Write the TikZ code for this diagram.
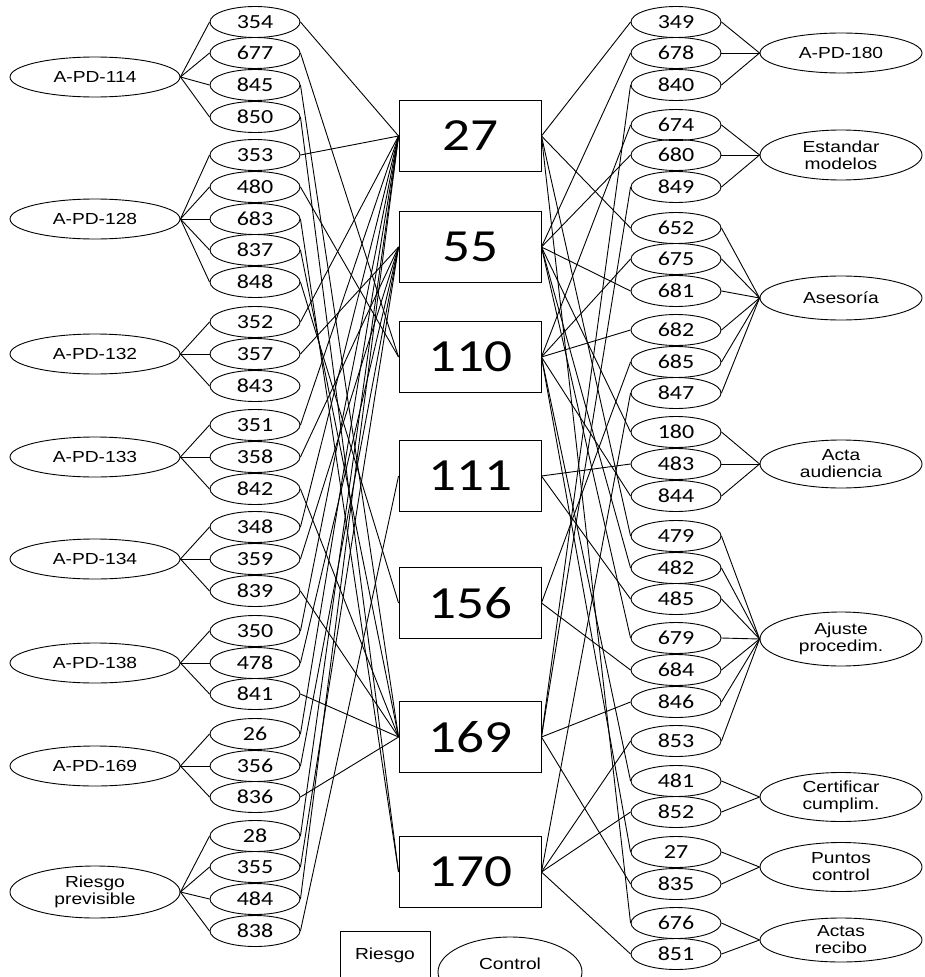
\documentclass[tikz,border=0pt]{standalone}
\usepackage{fontspec}
\setmainfont{Liberation Sans}[FakeStretch=1.2]
\newfontfamily\numfont{Carlito}[FakeStretch=1.2]
\usetikzlibrary{shapes.geometric}

\tikzset{
  act/.style={ellipse, draw, minimum width=90pt, minimum height=31pt, inner sep=0pt,
    font=\numfont\fontsize{20}{20}\selectfont},
  proc/.style={ellipse, draw, minimum width=170pt, minimum height=40pt, inner sep=0pt,
    align=center, font=\fontsize{16}{17}\selectfont},
  ctype/.style={ellipse, draw, minimum width=162pt, minimum height=44pt, inner sep=0pt,
    align=center, font=\fontsize{16}{17}\selectfont},
  risk/.style={draw, minimum width=142pt, minimum height=71pt, inner sep=0pt,
    font=\numfont\fontsize{46}{46}\selectfont},
}

\begin{document}
\begin{tikzpicture}[x=1pt, y=-1pt, line width=0.9pt]
    \clip (0,0) rectangle (924,977);

    % riesgos (centro)
    \foreach \n/\y in {27/136, 55/247, 110/357, 111/476, 156/603, 169/737, 170/872}
        \node[risk] (r\n) at (470,\y) {\n};

    % actividades (izquierda)
    \foreach \n/\y in {354/22, 677/53, 845/85, 850/117, 353/155, 480/187, 683/219,
        837/250, 848/282, 352/322, 357/354, 843/386, 351/425, 358/457, 842/489,
        348/527, 359/559, 839/591, 350/631, 478/663, 841/694, 26/734, 356/766,
        836/797, 28/836, 355/867, 484/899, 838/931}
        \node[act] (a\n) at (255,\y) {\n};

    % controles (derecha)
    \foreach \n/\y in {349/22, 678/53, 840/85, 674/125, 680/155, 849/187, 652/228,
        675/259, 681/291, 682/330, 685/362, 847/393, 180/432, 483/464, 844/496,
        479/536, 482/568, 485/599, 679/638, 684/670, 846/702, 853/741, 481/781,
        852/812, 27/852, 835/884, 676/923, 851/954}
        \node[act] (c\n) at (676,\y) {\n};

    % procedimientos
    \node[proc] (p114) at (95,77) {A-PD-114};
    \node[proc] (p128) at (95,219) {A-PD-128};
    \node[proc] (p132) at (95,354) {A-PD-132};
    \node[proc] (p133) at (95,457) {A-PD-133};
    \node[proc] (p134) at (95,559) {A-PD-134};
    \node[proc] (p138) at (95,663) {A-PD-138};
    \node[proc] (p169) at (95,766) {A-PD-169};
    \node[proc, minimum height=52pt] (prev) at (95,892) {Riesgo\\previsible};

    % tipos de control
    \node[ctype, minimum height=40pt] (t180) at (841,53) {A-PD-180};
    \node[ctype, minimum height=50pt] (test) at (841,155) {Estandar\\modelos};
    \node[ctype] (tase) at (841,298) {Asesoría};
    \node[ctype, minimum height=48pt] (tact) at (841,464) {Acta\\audiencia};
    \node[ctype, minimum height=54pt] (taju) at (841,639) {Ajuste\\procedim.};
    \node[ctype, minimum height=49pt] (tcer) at (841,797) {Certificar\\cumplim.};
    \node[ctype, minimum height=49pt] (tpun) at (841,867) {Puntos\\control};
    \node[ctype] (tres) at (841,940) {Actas\\recibo};

    % procedimiento -> actividad
    \foreach \a in {354,677,845,850} \draw (p114.east) -- (a\a.west);
    \foreach \a in {353,480,683,837,848} \draw (p128.east) -- (a\a.west);
    \foreach \a in {352,357,843} \draw (p132.east) -- (a\a.west);
    \foreach \a in {351,358,842} \draw (p133.east) -- (a\a.west);
    \foreach \a in {348,359,839} \draw (p134.east) -- (a\a.west);
    \foreach \a in {350,478,841} \draw (p138.east) -- (a\a.west);
    \foreach \a in {26,356,836} \draw (p169.east) -- (a\a.west);
    \foreach \a in {28,355,484,838} \draw (prev.east) -- (a\a.west);

    % actividad -> riesgo
    \foreach \a/\r in {354/27, 677/110, 845/169, 850/170, 353/27, 480/110, 683/170,
        837/169, 848/156, 352/27, 357/55, 351/27, 358/55, 842/169, 348/27, 359/55,
        839/169, 350/27, 478/55, 841/169, 26/27, 356/55, 836/169, 28/27, 355/55,
        484/27, 838/111}
        \draw (a\a.east) -- (r\r.west);

    % riesgo -> control
    \foreach \r/\c in {27/349, 27/652, 27/479, 27/676, 55/678, 55/680, 55/681, 55/180,
        55/679, 55/482, 110/674, 110/675, 110/682, 110/844, 110/481, 110/27, 111/483,
        111/485, 156/685, 156/684, 169/840, 169/849, 169/846, 169/835, 170/847,
        170/853, 170/852, 170/851}
        \draw (r\r.east) -- (c\c.west);

    % control -> tipo
    \foreach \c in {349,678,840} \draw (c\c.east) -- (t180.west);
    \foreach \c in {674,680,849} \draw (c\c.east) -- (test.west);
    \foreach \c in {652,675,681,682,685,847} \draw (c\c.east) -- (tase.west);
    \foreach \c in {180,483,844} \draw (c\c.east) -- (tact.west);
    \foreach \c in {479,482,485,679,684,846,853} \draw (c\c.east) -- (taju.west);
    \foreach \c in {481,852} \draw (c\c.east) -- (tcer.west);
    \foreach \c in {27,835} \draw (c\c.east) -- (tpun.west);
    \foreach \c in {676,851} \draw (c\c.east) -- (tres.west);

    % leyenda
    \node[draw, minimum width=90pt, minimum height=70pt, anchor=north west] (lriesgo) at (340,931) {};
    \node[font=\fontsize{16}{17}\selectfont] at (385,955) {Riesgo};
    \node[ellipse, draw, minimum width=144pt, minimum height=70pt] (lcontrol) at (510,972) {};
    \node[font=\fontsize{16}{17}\selectfont] at (510,964) {Control};
\end{tikzpicture}
\end{document}
